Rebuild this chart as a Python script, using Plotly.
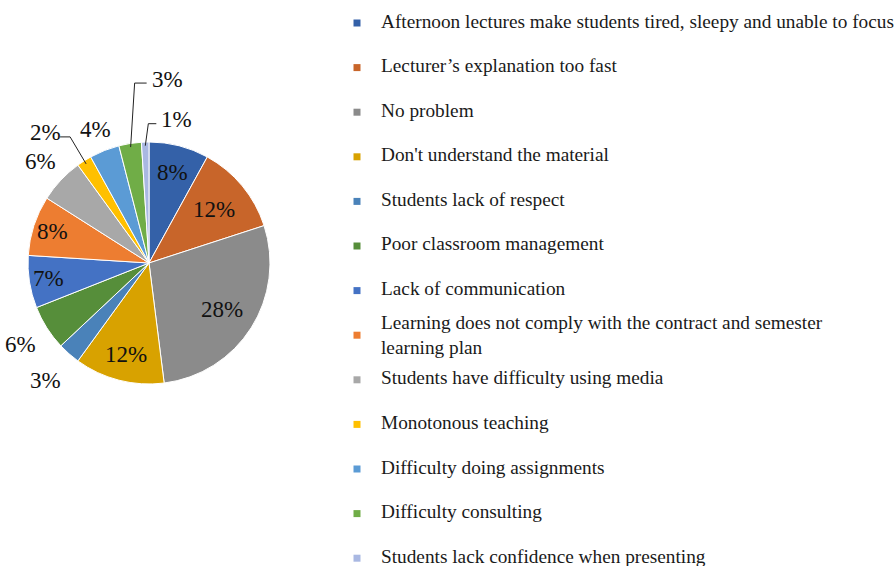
import math
import plotly.graph_objects as go

# Survey categories and their shares (%)
categories = [
    "Afternoon lectures make students tired, sleepy and unable to focus",
    "Lecturer\u2019s explanation too fast",
    "No problem",
    "Don't understand the material",
    "Students lack of respect",
    "Poor classroom management",
    "Lack of communication",
    "Learning does not comply with the contract and semester<br>learning plan",
    "Students have difficulty using media",
    "Monotonous teaching",
    "Difficulty doing assignments",
    "Difficulty consulting",
    "Students lack confidence when presenting",
]
values = [8, 12, 28, 12, 3, 6, 7, 8, 6, 2, 4, 3, 1]
colors = [
    "#3461A8", "#C8652A", "#8B8B8B", "#D8A200", "#4A82B9", "#568E3A", "#4472C4",
    "#ED7D31", "#A8A8A8", "#FFC000", "#5B9BD5", "#70AD47", "#A9B8E2",
]

W, H = 895, 566
CX, CY, R = 149, 263, 121          # pie centre and radius in pixels
LABEL_FONT = dict(family="Liberation Serif, Times New Roman, serif", size=23, color="#111111")
LEGEND_FONT = dict(family="Liberation Serif, Times New Roman, serif", size=19.3, color="#1a1a1a")

# radial position of each percentage label (fraction of radius); None -> leader line
label_r = [0.77, 0.70, 0.71, 0.78, 1.29, 1.26, 0.84, 0.84, 1.23, None, 1.19, None, None]
# leader lines: (elbow dx, elbow dy, horizontal run, text gap) in pixels
leaders = {9: (-16, -27, -10, -3), 11: (4, -64, 12, 3), 12: (3, -22, 8, 3)}


def px(x, y):
    return x / W, 1 - y / H


def polar(angle_deg, r):
    a = math.radians(angle_deg)
    return CX + r * math.sin(a), CY - r * math.cos(a)


fig = go.Figure(go.Pie(
    labels=categories,
    values=values,
    sort=False,
    direction="clockwise",
    rotation=0,
    marker=dict(colors=colors, line=dict(color="white", width=1)),
    textinfo="none",
    hoverinfo="label+percent",
    domain=dict(x=[(CX - R) / W, (CX + R) / W], y=[1 - (CY + R) / H, 1 - (CY - R) / H]),
    showlegend=False,
))

total = sum(values)
annotations = []
shapes = []
cum = 0
for i, v in enumerate(values):
    mid = (cum + v / 2) / total * 360
    cum += v
    text = f"{round(v / total * 100)}%"
    if label_r[i] is not None:
        x, y = polar(mid, label_r[i] * R)
        xp, yp = px(x, y)
        annotations.append(dict(x=xp, y=yp, xref="paper", yref="paper", text=text,
                                showarrow=False, font=LABEL_FONT,
                                xanchor="center", yanchor="middle"))
    else:
        edx, edy, run, gap = leaders[i]
        x0, y0 = polar(mid, R * 0.97)
        x1, y1 = x0 + edx, y0 + edy
        x2 = x1 + run
        p0, p1, p2 = px(x0, y0), px(x1, y1), px(x2, y1)
        shapes.append(dict(type="path", xref="paper", yref="paper",
                           path=f"M {p0[0]} {p0[1]} L {p1[0]} {p1[1]} L {p2[0]} {p2[1]}",
                           line=dict(color="#222222", width=1)))
        tx, ty = px(x2 + gap * (1 if run > 0 else -1), y1 - 4)
        annotations.append(dict(x=tx, y=ty, xref="paper", yref="paper", text=text,
                                showarrow=False, font=LABEL_FONT,
                                xanchor="left" if run > 0 else "right", yanchor="middle"))

# Legend drawn as coloured squares with text
LEG_Y0, LEG_STEP = 21, 44.6
SQ_X, SQ = 357, 7
TXT_X = 379
for i, (cat, col) in enumerate(zip(categories, colors)):
    yc = LEG_Y0 + i * LEG_STEP
    sx0, sy0 = px(SQ_X - SQ / 2, yc - SQ / 2 + 2)
    sx1, sy1 = px(SQ_X + SQ / 2, yc + SQ / 2 + 2)
    shapes.append(dict(type="rect", xref="paper", yref="paper", x0=sx0, y0=sy0, x1=sx1, y1=sy1,
                       fillcolor=col, line=dict(width=0)))
    tx, ty = px(TXT_X, yc + (2 if "<br>" in cat else 0))
    annotations.append(dict(x=tx, y=ty, xref="paper", yref="paper", text=cat,
                            showarrow=False, font=LEGEND_FONT, align="left",
                            xanchor="left", yanchor="middle"))

fig.update_layout(
    width=W, height=H,
    margin=dict(l=0, r=0, t=0, b=0),
    paper_bgcolor="white",
    plot_bgcolor="white",
    annotations=annotations,
    shapes=shapes,
)

fig.write_html("out.html")
